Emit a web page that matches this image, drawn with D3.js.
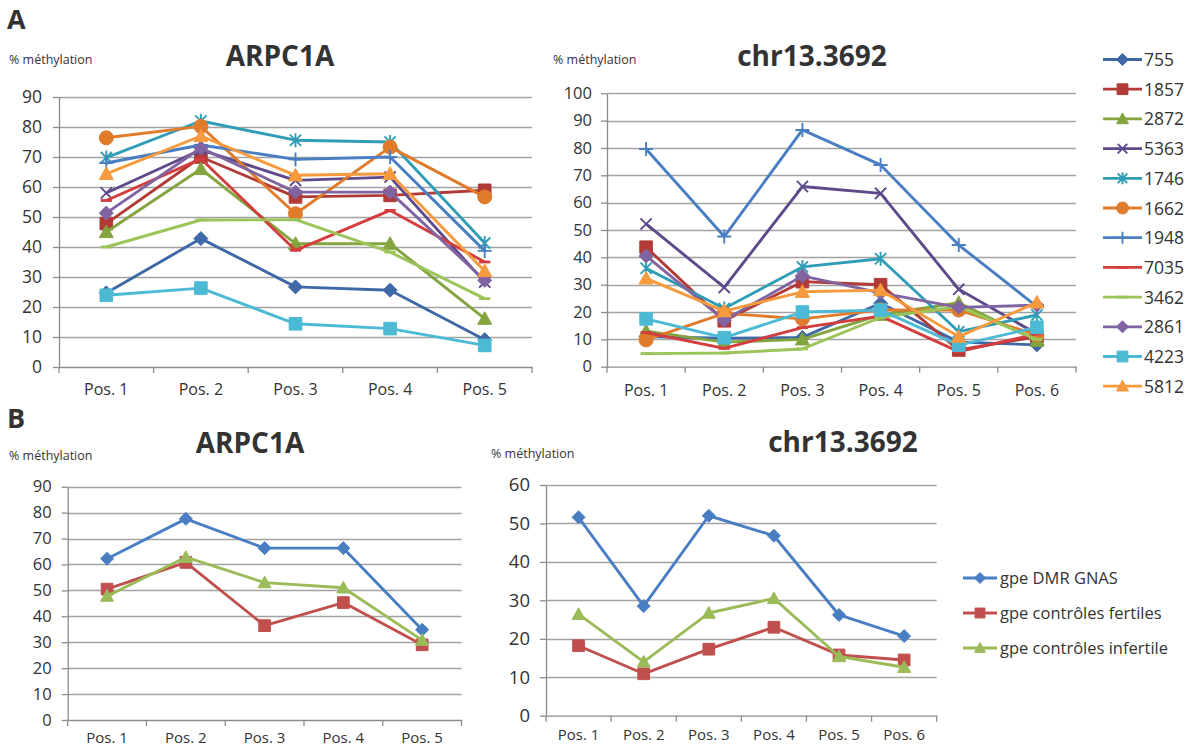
<!DOCTYPE html>
<html><head><meta charset="utf-8">
<script src="https://cdn.jsdelivr.net/npm/d3@7"></script>
<style>
body{margin:0;background:#fff}
svg{display:block}
text{font-family:"Open Sans",sans-serif;fill:#333}
</style>
</head><body>
<svg id="c" width="1193" height="755"></svg>
<script>
// ---------- DATA ----------
const posA1 = ["Pos. 1","Pos. 2","Pos. 3","Pos. 4","Pos. 5"];
const posA2 = ["Pos. 1","Pos. 2","Pos. 3","Pos. 4","Pos. 5","Pos. 6"];
const samples = ["755","1857","2872","5363","1746","1662","1948","7035","3462","2861","4223","5812"];
const sampleMarkers = ["diamond","square","triangle","x","asterisk","circle","plus","dash","dash","diamond","square","triangle"];
const sampleColors = ["#3E68A6","#B23B37","#84A43F","#5E4A8A","#2F9DB6","#DF7B2B","#4A7EC2","#D43D3D","#9CC459","#8064A2","#4CBAD4","#F79A3D"];

// ARPC1A (panel A), one array per sample
const arpc_755  = [24.7, 42.8, 26.7, 25.6, 9.1];
const arpc_1857 = [47.8, 70.0, 56.7, 57.2, 58.9];
const arpc_2872 = [45.0, 66.0, 41.1, 41.1, 16.1];
const arpc_5363 = [58.0, 72.4, 62.2, 63.3, 28.3];
const arpc_1746 = [69.8, 82.0, 75.6, 75.0, 41.3];
const arpc_1662 = [76.4, 80.2, 51.1, 73.3, 56.7];
const arpc_1948 = [68.0, 74.0, 69.2, 70.0, 38.7];
const arpc_7035 = [55.5, 69.4, 38.9, 52.2, 35.0];
const arpc_3462 = [40.0, 49.0, 49.1, 38.3, 22.8];
const arpc_2861 = [51.3, 73.0, 58.3, 58.3, 28.9];
const arpc_4223 = [23.9, 26.3, 14.4, 12.8, 7.2];
const arpc_5812 = [64.4, 77.0, 63.9, 64.4, 32.0];

// chr13.3692 (panel A), one array per sample
const chr_755  = [11.0, 10.4, 10.7, 23.2, 9.0, 8.0];
const chr_1857 = [43.7, 16.8, 31.1, 30.0, 6.1, 11.0];
const chr_2872 = [13.0, 9.0, 10.0, 19.0, 23.4, 9.5];
const chr_5363 = [52.2, 29.0, 65.9, 63.4, 28.3, 12.0];
const chr_1746 = [36.0, 21.3, 36.5, 39.5, 12.8, 18.9];
const chr_1662 = [9.8, 19.5, 17.5, 20.8, 20.7, 11.6];
const chr_1948 = [79.6, 47.6, 86.6, 73.8, 44.5, 22.0];
const chr_7035 = [12.5, 6.7, 14.3, 18.5, 5.5, 12.0];
const chr_3462 = [4.8, 5.0, 6.5, 18.0, 22.0, 10.0];
const chr_2861 = [40.5, 17.0, 33.2, 27.0, 21.7, 22.5];
const chr_4223 = [17.5, 10.6, 20.0, 20.7, 7.9, 14.4];
const chr_5812 = [32.3, 20.3, 27.4, 28.0, 11.0, 23.5];

// Panel B groups
const groups = ["gpe DMR GNAS","gpe contrôles fertiles","gpe contrôles infertile"];
const groupMarkers = ["diamond","square","triangle"];
const groupColors = ["#4A7EC2","#C0504D","#9BBB59"];
const arpcB_gnas   = [62.2, 77.6, 66.3, 66.3, 34.8];
const arpcB_fert   = [50.5, 60.8, 36.4, 45.3, 29.0];
const arpcB_infert = [47.8, 62.8, 53.0, 51.0, 30.8];
const chrB_gnas    = [51.6, 28.5, 52.0, 46.8, 26.2, 20.7];
const chrB_fert    = [18.2, 10.9, 17.3, 23.0, 15.8, 14.5];
const chrB_infert  = [26.4, 14.0, 26.7, 30.5, 15.4, 12.6];

const yLabel = "% méthylation";

// ---------- DRAW ----------
const svg = d3.select("#c");

function markerPath(type, s){
  switch(type){
    case "diamond": return `M0,${-s}L${s},0L0,${s}L${-s},0Z`;
    case "square": return `M${-s*0.9},${-s*0.9}H${s*0.9}V${s*0.9}H${-s*0.9}Z`;
    case "triangle": return `M0,${-s}L${s},${s*0.8}L${-s},${s*0.8}Z`;
    case "circle": return `M${-s},0A${s},${s} 0 1,0 ${s},0A${s},${s} 0 1,0 ${-s},0Z`;
    case "x": return `M${-s*0.8},${-s*0.8}L${s*0.8},${s*0.8}M${-s*0.8},${s*0.8}L${s*0.8},${-s*0.8}`;
    case "asterisk": return `M${-s*0.8},${-s*0.8}L${s*0.8},${s*0.8}M${-s*0.8},${s*0.8}L${s*0.8},${-s*0.8}M0,${-s}V${s}`;
    case "plus": return `M0,${-s}V${s}M${-s},0H${s}`;
    case "dash": return `M${-s*0.8},0H${s*0.8}`;
  }
}
const filled = t => ["diamond","square","triangle","circle"].includes(t);

function drawMarker(g, type, color, s, cx, cy){
  const p = g.append("path").attr("d", markerPath(type, s)).attr("transform", `translate(${cx},${cy})`);
  if (filled(type)) p.attr("fill", color).attr("stroke", color).attr("stroke-width", 1);
  else p.attr("fill", "none").attr("stroke", color).attr("stroke-width", type==="dash"?2.8:1.9);
}

function drawChart(cfg){
  const g = svg.append("g");
  const x = d3.scaleBand().domain(cfg.cats).range([cfg.left, cfg.right]);
  const y = d3.scaleLinear().domain([0, cfg.max]).range([cfg.bottom, cfg.top]);
  const ticks = d3.range(0, cfg.max + 1, 10);
  // gridlines
  g.append("g").selectAll("line").data(ticks.slice(1)).join("line")
    .attr("x1", cfg.left).attr("x2", cfg.right)
    .attr("y1", d => Math.round(y(d)) + 0.5).attr("y2", d => Math.round(y(d)) + 0.5)
    .attr("stroke", "#a2a2a2").attr("stroke-width", 1.3);
  // y axis
  const ya = g.append("g").attr("transform", `translate(${cfg.left},0)`)
    .call(d3.axisLeft(y).tickValues(ticks).tickSize(6).tickSizeOuter(0).tickPadding(cfg.yPad));
  ya.select(".domain").attr("stroke", "#8c8c8c").attr("stroke-width", 1.3);
  ya.selectAll(".tick line").attr("stroke", "#8c8c8c").attr("stroke-width", 1.3);
  ya.selectAll(".tick text").style("font-size", cfg.yfs + "px").style("font-family", "'Open Sans',sans-serif").attr("fill", "#333");
  // x axis
  const xa = g.append("g").attr("transform", `translate(0,${cfg.bottom})`)
    .call(d3.axisBottom(x).tickSize(0).tickSizeOuter(0).tickPadding(cfg.xPad));
  xa.select(".domain").attr("stroke", "#8c8c8c").attr("stroke-width", 1.3);
  xa.selectAll(".tick text").style("font-size", cfg.fs + "px").style("font-family", "'Open Sans',sans-serif").attr("fill", "#333");
  const bounds = cfg.cats.map(c => x(c)).concat([x.range()[1]]);
  g.append("g").selectAll("line").data(bounds).join("line")
    .attr("x1", d => d).attr("x2", d => d).attr("y1", cfg.bottom).attr("y2", cfg.bottom + 6)
    .attr("stroke", "#8c8c8c").attr("stroke-width", 1.3);
  // series
  const line = d3.line().x((d, i) => x(cfg.cats[i]) + x.bandwidth() / 2).y(d => y(d));
  cfg.series.forEach((vals, k) => {
    const sg = g.append("g");
    sg.append("path").datum(vals).attr("d", line).attr("fill", "none")
      .attr("stroke", cfg.colors[k]).attr("stroke-width", cfg.lw).attr("stroke-linejoin", "round");
    vals.forEach((v, i) => drawMarker(sg, cfg.markers[k], cfg.colors[k], cfg.ms, x(cfg.cats[i]) + x.bandwidth() / 2, y(v)));
  });
  // title + y label
  svg.append("text").attr("x", cfg.titleX).attr("y", cfg.titleY).attr("text-anchor", "middle")
    .style("font-size", "28px").style("font-weight", "700").attr("fill", "#111").text(cfg.title);
  svg.append("text").attr("x", cfg.ylx).attr("y", cfg.yly).style("font-size", "12.5px").attr("fill", "#444").text(yLabel);
}

drawChart({cats: posA1, max: 90, left: 59, right: 532, top: 97, bottom: 367, yPad: 11, xPad: 17, fs: 16, yfs: 17.5, lw: 2.9, ms: 7,
  series: [arpc_755, arpc_1857, arpc_2872, arpc_5363, arpc_1746, arpc_1662, arpc_1948, arpc_7035, arpc_3462, arpc_2861, arpc_4223, arpc_5812],
  colors: sampleColors, markers: sampleMarkers, title: "ARPC1A", titleX: 280, titleY: 66, ylx: 9, yly: 64});

drawChart({cats: posA2, max: 100, left: 607, right: 1076, top: 93.3, bottom: 366.7, yPad: 9, xPad: 18, fs: 16, yfs: 16.5, lw: 2.9, ms: 7,
  series: [chr_755, chr_1857, chr_2872, chr_5363, chr_1746, chr_1662, chr_1948, chr_7035, chr_3462, chr_2861, chr_4223, chr_5812],
  colors: sampleColors, markers: sampleMarkers, title: "chr13.3692", titleX: 812, titleY: 66, ylx: 553, yly: 64});

drawChart({cats: posA1, max: 90, left: 67.7, right: 461.5, top: 486.7, bottom: 720, yPad: 10, xPad: 12, fs: 15, yfs: 16.5, lw: 2.9, ms: 6.5,
  series: [arpcB_gnas, arpcB_fert, arpcB_infert],
  colors: groupColors, markers: groupMarkers, title: "ARPC1A", titleX: 250, titleY: 453, ylx: 9, yly: 460});

drawChart({cats: posA2, max: 60, left: 546, right: 936.7, top: 485, bottom: 715.7, yPad: 10, xPad: 14, fs: 15, yfs: 18.5, lw: 2.9, ms: 6.5,
  series: [chrB_gnas, chrB_fert, chrB_infert],
  colors: groupColors, markers: groupMarkers, title: "chr13.3692", titleX: 843, titleY: 452, ylx: 491, yly: 458});

// Legend A
const legA = svg.append("g");
samples.forEach((s, i) => {
  const yy = 59.5 + i * 29.7;
  const it = legA.append("g");
  it.append("line").attr("x1", 1103).attr("x2", 1142).attr("y1", yy).attr("y2", yy)
    .attr("stroke", sampleColors[i]).attr("stroke-width", 2.8);
  drawMarker(it, sampleMarkers[i], sampleColors[i], 6, 1122.5, yy);
  it.append("text").attr("x", 1144).attr("y", yy + 6.5).style("font-size", "17.5px").text(s);
});

// Legend B
const legB = svg.append("g");
groups.forEach((s, i) => {
  const yy = 578 + i * 35;
  const it = legB.append("g");
  it.append("line").attr("x1", 963).attr("x2", 997).attr("y1", yy).attr("y2", yy)
    .attr("stroke", groupColors[i]).attr("stroke-width", 2.8);
  drawMarker(it, groupMarkers[i], groupColors[i], 5.5, 980, yy);
  it.append("text").attr("x", 1000).attr("y", yy + 6).style("font-size", "16.5px").text(s);
});

// Panel letters
svg.append("text").attr("x", 7).attr("y", 29).style("font-size", "27px").style("font-weight", "700").attr("fill", "#111").text("A");
svg.append("text").attr("x", 7).attr("y", 428).style("font-size", "27px").style("font-weight", "700").attr("fill", "#111").text("B");
</script>
</body></html>
